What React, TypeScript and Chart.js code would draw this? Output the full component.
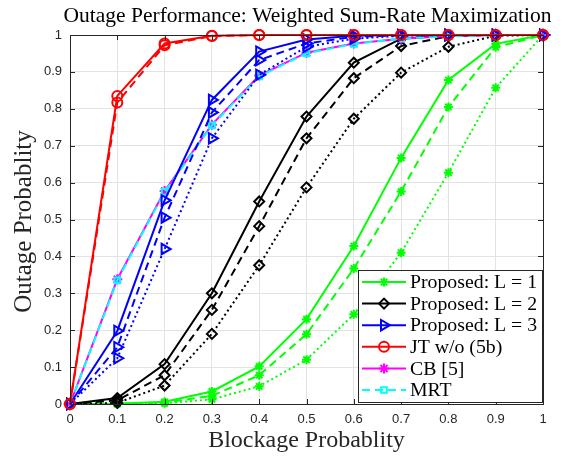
import React, { useEffect, useRef } from "react";
import { Chart, registerables } from "chart.js";
import { drawPoint } from "chart.js/helpers";

Chart.register(...registerables);

const blockage = [0, 0.1, 0.2, 0.3, 0.4, 0.5, 0.6, 0.7, 0.8, 0.9, 1];
const tickValues = [0, 0.1, 0.2, 0.3, 0.4, 0.5, 0.6, 0.7, 0.8, 0.9, 1];

const l1Solid = [0, 0.001, 0.006, 0.034, 0.102, 0.23, 0.428, 0.667, 0.878, 0.976, 1];
const l1Dashed = [0, 0.0005, 0.004, 0.022, 0.078, 0.189, 0.367, 0.576, 0.805, 0.967, 1];
const l1Dotted = [0, 0, 0.002, 0.0125, 0.048, 0.12, 0.243, 0.41, 0.627, 0.857, 1];

const l2Solid = [0, 0.016, 0.108, 0.3, 0.549, 0.779, 0.925, 0.99, 0.999, 1, 1];
const l2Dashed = [0, 0.01, 0.078, 0.255, 0.482, 0.72, 0.883, 0.97, 0.997, 1, 1];
const l2Dotted = [0, 0.003, 0.05, 0.19, 0.376, 0.587, 0.773, 0.898, 0.968, 0.998, 1];

const l3Solid = [0, 0.198, 0.552, 0.824, 0.955, 0.988, 0.998, 1, 1, 1, 1];
const l3Dashed = [0, 0.154, 0.505, 0.79, 0.932, 0.977, 0.995, 0.999, 1, 1, 1];
const l3Dotted = [0, 0.124, 0.42, 0.72, 0.892, 0.968, 0.99, 0.998, 1, 1, 1];

const jtSolid = [0, 0.835, 0.977, 0.998, 1, 1, 1, 1, 1, 1, 1];
const jtDashed = [0, 0.817, 0.972, 0.997, 1, 1, 1, 1, 1, 1, 1];

const cbValues = [0, 0.338, 0.577, 0.757, 0.89, 0.952, 0.977, 0.99, 0.997, 1, 1];
const mrtValues = [0, 0.335, 0.575, 0.755, 0.888, 0.95, 0.976, 0.99, 0.997, 1, 1];

const SOLID: number[] = [];
const DASHED = [8, 5];
const DOTTED = [2, 3];

type Series = {
  label: string;
  values: number[];
  color: string;
  dash: number[];
  pointStyle: string;
  radius: number;
  rotation: number;
  filled: boolean;
  inLegend: boolean;
};

const series: Series[] = [
  { label: "Proposed: L = 1", values: l1Solid, color: "#00ff00", dash: SOLID, pointStyle: "star", radius: 4.5, rotation: 0, filled: true, inLegend: true },
  { label: "Proposed: L = 2", values: l2Solid, color: "#000000", dash: SOLID, pointStyle: "rectRot", radius: 5, rotation: 0, filled: false, inLegend: true },
  { label: "Proposed: L = 3", values: l3Solid, color: "#0000ff", dash: SOLID, pointStyle: "triangle", radius: 6, rotation: 90, filled: false, inLegend: true },
  { label: "JT w/o (5b)", values: jtSolid, color: "#ff0000", dash: SOLID, pointStyle: "circle", radius: 5, rotation: 0, filled: false, inLegend: true },
  { label: "CB [5]", values: cbValues, color: "#ff00ff", dash: SOLID, pointStyle: "star", radius: 5, rotation: 0, filled: false, inLegend: true },
  { label: "MRT", values: mrtValues, color: "#00ffff", dash: DASHED, pointStyle: "rect", radius: 4, rotation: 0, filled: false, inLegend: true },
  { label: "L1 dashed", values: l1Dashed, color: "#00ff00", dash: DASHED, pointStyle: "star", radius: 4.5, rotation: 0, filled: true, inLegend: false },
  { label: "L1 dotted", values: l1Dotted, color: "#00ff00", dash: DOTTED, pointStyle: "star", radius: 4.5, rotation: 0, filled: true, inLegend: false },
  { label: "L2 dashed", values: l2Dashed, color: "#000000", dash: DASHED, pointStyle: "rectRot", radius: 5, rotation: 0, filled: false, inLegend: false },
  { label: "L2 dotted", values: l2Dotted, color: "#000000", dash: DOTTED, pointStyle: "rectRot", radius: 5, rotation: 0, filled: false, inLegend: false },
  { label: "L3 dashed", values: l3Dashed, color: "#0000ff", dash: DASHED, pointStyle: "triangle", radius: 6, rotation: 90, filled: false, inLegend: false },
  { label: "L3 dotted", values: l3Dotted, color: "#0000ff", dash: DOTTED, pointStyle: "triangle", radius: 6, rotation: 90, filled: false, inLegend: false },
  { label: "JT dashed", values: jtDashed, color: "#ff0000", dash: DASHED, pointStyle: "circle", radius: 5, rotation: 0, filled: false, inLegend: false },
];

// draw order (MATLAB style: later on top)
const drawOrder = [
  "L1 dotted", "L1 dashed", "Proposed: L = 1",
  "L2 dotted", "L2 dashed", "Proposed: L = 2",
  "CB [5]", "MRT",
  "L3 dotted", "L3 dashed", "Proposed: L = 3",
  "JT dashed", "JT w/o (5b)",
];

const AXIS_COLOR = "#262626";
const SERIF = "'Liberation Serif', 'DejaVu Serif', serif";
const SANS = "'Liberation Sans', Arial, sans-serif";

const decorPlugin = {
  id: "decor",
  afterDatasetsDraw(chart: any) {
    const { ctx, chartArea } = chart;
    const { left, right, top, bottom } = chartArea;
    const xs = chart.scales.x;
    const ys = chart.scales.y;
    ctx.save();
    ctx.strokeStyle = AXIS_COLOR;
    ctx.lineWidth = 1;
    ctx.setLineDash([]);
    ctx.beginPath();
    for (const t of tickValues) {
      const px = Math.round(xs.getPixelForValue(t)) + 0.5;
      ctx.moveTo(px, bottom);
      ctx.lineTo(px, bottom - 5);
      ctx.moveTo(px, top);
      ctx.lineTo(px, top + 5);
      const py = Math.round(ys.getPixelForValue(t)) + 0.5;
      ctx.moveTo(left, py);
      ctx.lineTo(left + 5, py);
      ctx.moveTo(right, py);
      ctx.lineTo(right - 5, py);
    }
    ctx.stroke();
    ctx.strokeRect(Math.round(left) + 0.5, Math.round(top) + 0.5, Math.round(right - left), Math.round(bottom - top));
    ctx.restore();
  },
  afterDraw(chart: any) {
    const { ctx, chartArea } = chart;
    const { left, right, top, bottom } = chartArea;
    ctx.save();
    // title
    ctx.fillStyle = "#000";
    ctx.font = `21.5px ${SERIF}`;
    ctx.textAlign = "center";
    ctx.textBaseline = "middle";
    ctx.fillText("Outage Performance: Weighted Sum-Rate Maximization", (left + right) / 2 + 1, 16);
    // axis titles
    ctx.fillStyle = "#262626";
    ctx.font = `24px ${SERIF}`;
    ctx.fillText("Blockage Probablity", (left + right) / 2, 441);
    ctx.save();
    ctx.translate(24, (top + bottom) / 2 + 2);
    ctx.rotate(-Math.PI / 2);
    ctx.font = `25px ${SERIF}`;
    ctx.fillText("Outage Probablity", 0, 0);
    ctx.restore();

    // legend
    const bx = 358, by = 270, bw = 184, bh = 132;
    ctx.fillStyle = "#fff";
    ctx.fillRect(bx, by, bw, bh);
    ctx.strokeStyle = AXIS_COLOR;
    ctx.lineWidth = 1;
    ctx.setLineDash([]);
    ctx.strokeRect(bx + 0.5, by + 0.5, bw, bh);
    const entries = series.filter((s) => s.inLegend);
    entries.forEach((s, i) => {
      const y = 282 + i * 21.6;
      ctx.strokeStyle = s.color;
      ctx.lineWidth = 2;
      ctx.setLineDash(s.dash);
      ctx.beginPath();
      ctx.moveTo(362, y);
      ctx.lineTo(406, y);
      ctx.stroke();
      ctx.setLineDash([]);
      ctx.fillStyle = s.filled ? s.color : "rgba(0,0,0,0)";
      ctx.strokeStyle = s.color;
      ctx.lineWidth = 2;
      drawPoint(ctx, { pointStyle: s.pointStyle as any, rotation: s.rotation, radius: s.radius, borderWidth: 2 } as any, 384, y);
      ctx.fillStyle = "#000";
      ctx.font = `19.8px ${SERIF}`;
      ctx.textAlign = "left";
      ctx.textBaseline = "middle";
      ctx.fillText(s.label, 410, y + 1);
    });
    ctx.restore();
  },
};

const fmt = (v: any) => {
  const n = Number(Number(v).toFixed(1));
  return String(n);
};

export default function App() {
  const ref = useRef<HTMLCanvasElement | null>(null);
  useEffect(() => {
    document.body.style.margin = "0";
    const canvas = ref.current;
    if (!canvas) return;
    const datasets = series.map((s) => ({
      label: s.label,
      data: blockage.map((x, i) => ({ x, y: s.values[i] })),
      borderColor: s.color,
      backgroundColor: s.filled ? s.color : "rgba(0,0,0,0)",
      borderWidth: 2,
      borderDash: s.dash,
      pointStyle: s.pointStyle as any,
      pointRadius: s.radius,
      pointRotation: s.rotation,
      pointBorderWidth: 2,
      pointBorderColor: s.color,
      pointBackgroundColor: s.filled ? s.color : "rgba(0,0,0,0)",
      tension: 0,
      fill: false,
      clip: false as any,
      order: drawOrder.length - drawOrder.indexOf(s.label),
    }));
    const chart = new Chart(canvas, {
      type: "line",
      data: { datasets },
      plugins: [decorPlugin],
      options: {
        animation: false,
        responsive: false,
        devicePixelRatio: 1,
        layout: { padding: { top: 35, right: 28, left: 0, bottom: 0 } },
        plugins: { legend: { display: false }, tooltip: { enabled: false }, title: { display: false } },
        scales: {
          x: {
            type: "linear",
            min: 0,
            max: 1,
            afterFit: (s: any) => { s.height = 54; },
            afterBuildTicks: (s: any) => { s.ticks = tickValues.map((v) => ({ value: v })); },
            ticks: { callback: fmt, color: "#262626", font: { family: SANS, size: 13 }, padding: 8, maxRotation: 0 },
            grid: { color: "#e3e3e3", lineWidth: 1, drawTicks: false },
            border: { display: false },
          },
          y: {
            type: "linear",
            min: 0,
            max: 1,
            afterFit: (s: any) => { s.width = 70; },
            afterBuildTicks: (s: any) => { s.ticks = tickValues.map((v) => ({ value: v })); },
            ticks: { callback: fmt, color: "#262626", font: { family: SANS, size: 13 }, padding: 8 },
            grid: { color: "#e3e3e3", lineWidth: 1, drawTicks: false },
            border: { display: false },
          },
        },
      },
    });
    return () => chart.destroy();
  }, []);
  return (
    <div style={{ width: 571, height: 458 }}>
      <canvas ref={ref} width={571} height={458} style={{ display: "block", width: 571, height: 458 }} />
    </div>
  );
}
